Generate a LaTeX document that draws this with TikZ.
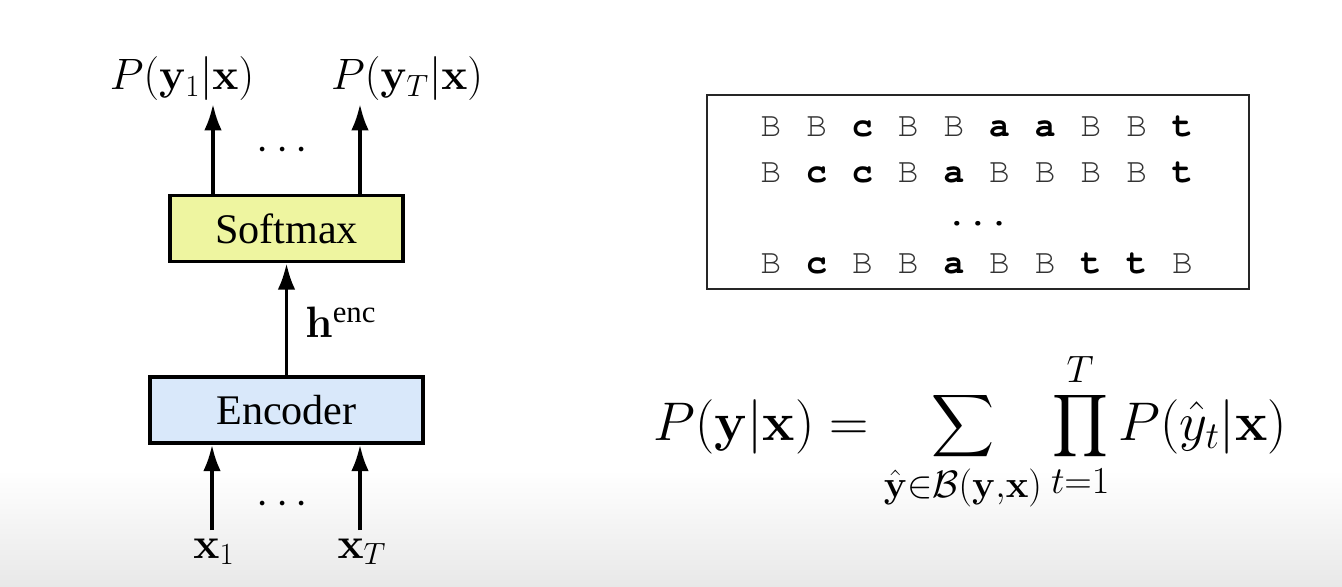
\documentclass[tikz,border=0pt]{standalone}
\usepackage{fix-cm}
\usepackage{amsmath}
\usepackage[no-math]{fontspec}
\setmainfont{Liberation Serif}
\usepackage{tikz}
\usetikzlibrary{arrows.meta, positioning, calc}

\definecolor{softyellow}{RGB}{238,245,160}
\definecolor{encblue}{RGB}{217,232,250}
\newcommand{\courier}{\fontencoding{OT1}\fontfamily{pcr}\selectfont}

\begin{document}
\begin{tikzpicture}[
    x=0.02cm, y=-0.02cm,
    block/.style={rectangle, draw=black, line width=2pt, minimum height=1.32cm,
                  font=\fontsize{24}{28}\selectfont},
    lbl/.style={font=\fontsize{25}{30}\selectfont, inner sep=0pt},
    tok/.style={font=\fontsize{20}{24}\courier, anchor=base, inner sep=0pt},
    arrow/.style={-{Latex[length=15pt, width=10pt]}, line width=2pt}
]
    \fill[white] (0,0) rectangle (1342,587);
    \shade[top color=white, bottom color=black!9] (0,470) rectangle (1342,587);
    \useasboundingbox (0,0) rectangle (1342,587);

    \node[block, fill=encblue, minimum width=5.46cm] (enc) at (286.5,410) {Encoder};
    \node[block, fill=softyellow, minimum width=4.66cm] (soft) [above=2.24cm of enc] {Softmax};

    \node[lbl, anchor=base] (py1) at (182,90) {$P(\mathbf{y}_1|\mathbf{x})$};
    \node[lbl, anchor=base] (pyT) at (407,90) {$P(\mathbf{y}_T|\mathbf{x})$};
    \node[lbl] (tdots) at (286,151) {$\cdots$};
    \node[lbl, anchor=base west] (henc) at (305,338) {$\mathbf{h}^{\text{enc}}$};
    \node[lbl, anchor=base] (x1) at (214,558) {$\mathbf{x}_1$};
    \node[lbl, anchor=base] (xT) at (362,558) {$\mathbf{x}_T$};
    \node[lbl] (bdots) at (286,505) {$\cdots$};

    \coordinate (t1) at (213,104);
    \coordinate (tT) at (360,104);
    \coordinate (b1) at (212,530);
    \coordinate (bT) at (360,530);

    \draw[arrow] (soft.north -| t1) -- (t1);
    \draw[arrow] (soft.north -| tT) -- (tT);
    \draw[arrow] (enc) -- (soft);
    \draw[arrow] (b1) -- (b1 |- enc.south);
    \draw[arrow] (bT) -- (bT |- enc.south);

    \node[draw=black!85, line width=1.3pt, minimum width=10.84cm, minimum height=3.88cm]
        (paths) at (978,192) {};
    \foreach \letters/\yy in {{B,B,c,B,B,a,a,B,B,t}/137, {B,c,c,B,a,B,B,B,B,t}/183,
                              {B,c,B,B,a,B,B,t,t,B}/274} {
        \foreach \ch [count=\i] in \letters {
            \node[tok] (tok-\yy-\i) at ({771+45.7*(\i-1)},\yy)
                {\if\ch B\textcolor{black!80}{B}\else\bfseries\ch\fi};
        }
    }
    \node[tok, anchor=center] (rdots) at (978,224) {...};

    \node[font=\fontsize{31}{36}\selectfont, anchor=base west, inner sep=0pt] (prob) at (653,440)
        {$\displaystyle P(\mathbf{y}|\mathbf{x}) = \sum_{\hat{\mathbf{y}}\in\mathcal{B}(\mathbf{y},\mathbf{x})}
         \prod_{t=1}^{T}P(\hat{y}_t|\mathbf{x})$};
\end{tikzpicture}
\end{document}
